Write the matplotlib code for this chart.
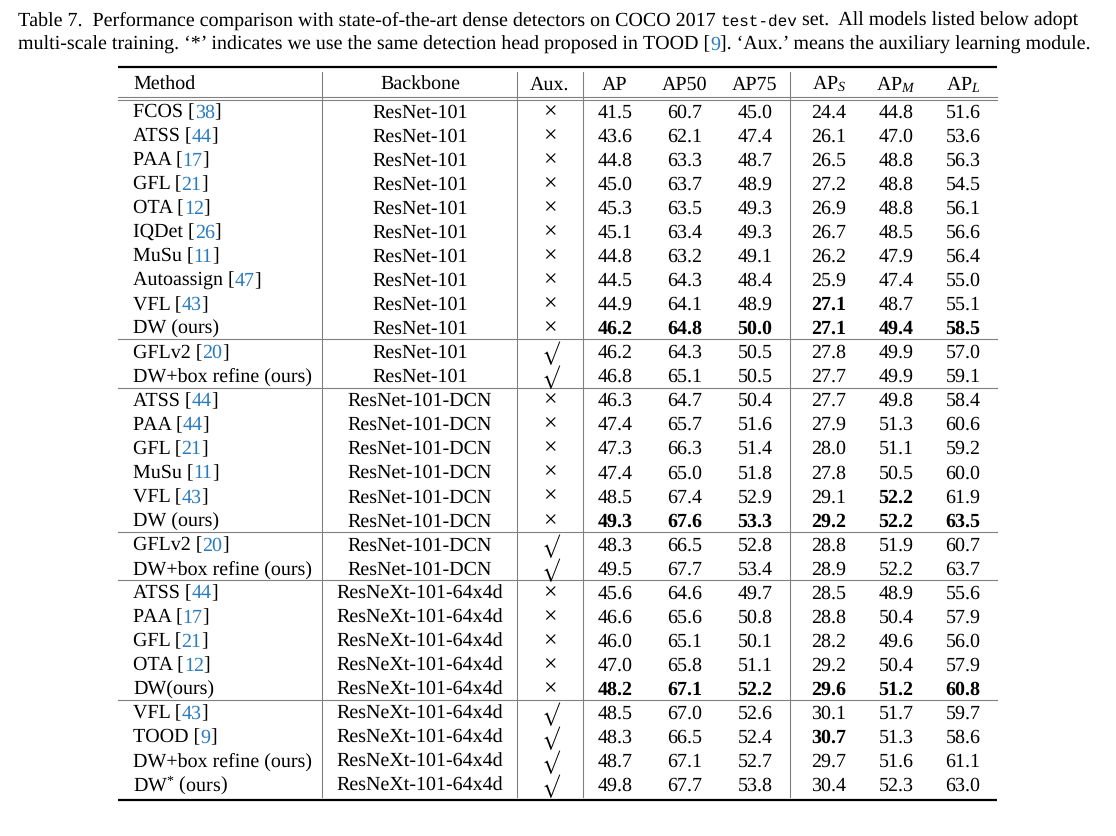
import matplotlib
matplotlib.use("Agg")
import matplotlib.pyplot as plt
from matplotlib.font_manager import FontProperties, findfont, get_font

plt.rcParams['font.family'] = ['Liberation Serif', 'DejaVu Serif']
plt.rcParams['mathtext.fontset'] = 'custom'
plt.rcParams['mathtext.rm'] = 'Liberation Serif'
plt.rcParams['mathtext.it'] = 'Liberation Serif:italic'
plt.rcParams['mathtext.bf'] = 'Liberation Serif:bold'
# sin hinting: los avances de los glifos son lineales y se pueden encadenar trozos
plt.rcParams['text.hinting'] = 'none'
plt.rcParams['text.hinting_factor'] = 1

# ------------------ DATOS ------------------
metodos = ["FCOS", "ATSS", "PAA", "GFL", "OTA", "IQDet", "MuSu", "Autoassign", "VFL", "DW (ours)",
           "GFLv2", "DW+box refine (ours)",
           "ATSS", "PAA", "GFL", "MuSu", "VFL", "DW (ours)",
           "GFLv2", "DW+box refine (ours)",
           "ATSS", "PAA", "GFL", "OTA", "DW(ours)",
           "VFL", "TOOD", "DW+box refine (ours)", "DW$^{*}$ (ours)"]
citas = ["38", "44", "17", "21", "12", "26", "11", "47", "43", "",
         "20", "",
         "44", "44", "21", "11", "43", "",
         "20", "",
         "44", "17", "21", "12", "",
         "43", "9", "", ""]
backbones = (["ResNet-101"] * 12 + ["ResNet-101-DCN"] * 8 + ["ResNeXt-101-64x4d"] * 9)
aux = [0] * 10 + [1] * 2 + [0] * 6 + [1] * 2 + [0] * 5 + [1] * 4

ap = [41.5, 43.6, 44.8, 45.0, 45.3, 45.1, 44.8, 44.5, 44.9, 46.2, 46.2, 46.8,
      46.3, 47.4, 47.3, 47.4, 48.5, 49.3, 48.3, 49.5,
      45.6, 46.6, 46.0, 47.0, 48.2, 48.5, 48.3, 48.7, 49.8]
ap50 = [60.7, 62.1, 63.3, 63.7, 63.5, 63.4, 63.2, 64.3, 64.1, 64.8, 64.3, 65.1,
        64.7, 65.7, 66.3, 65.0, 67.4, 67.6, 66.5, 67.7,
        64.6, 65.6, 65.1, 65.8, 67.1, 67.0, 66.5, 67.1, 67.7]
ap75 = [45.0, 47.4, 48.7, 48.9, 49.3, 49.3, 49.1, 48.4, 48.9, 50.0, 50.5, 50.5,
        50.4, 51.6, 51.4, 51.8, 52.9, 53.3, 52.8, 53.4,
        49.7, 50.8, 50.1, 51.1, 52.2, 52.6, 52.4, 52.7, 53.8]
aps = [24.4, 26.1, 26.5, 27.2, 26.9, 26.7, 26.2, 25.9, 27.1, 27.1, 27.8, 27.7,
       27.7, 27.9, 28.0, 27.8, 29.1, 29.2, 28.8, 28.9,
       28.5, 28.8, 28.2, 29.2, 29.6, 30.1, 30.7, 29.7, 30.4]
apm = [44.8, 47.0, 48.8, 48.8, 48.8, 48.5, 47.9, 47.4, 48.7, 49.4, 49.9, 49.9,
       49.8, 51.3, 51.1, 50.5, 52.2, 52.2, 51.9, 52.2,
       48.9, 50.4, 49.6, 50.4, 51.2, 51.7, 51.3, 51.6, 52.3]
apl = [51.6, 53.6, 56.3, 54.5, 56.1, 56.6, 56.4, 55.0, 55.1, 58.5, 57.0, 59.1,
       58.4, 60.6, 59.2, 60.0, 61.9, 63.5, 60.7, 63.7,
       55.6, 57.9, 56.0, 57.9, 60.8, 59.7, 58.6, 61.1, 63.0]

# celdas en negrita (fila, columna numérica)
negritas = [(9, c) for c in range(6)] + [(8, 3)] + \
           [(17, c) for c in range(6)] + [(16, 4)] + \
           [(24, c) for c in range(6)] + [(26, 3)]
grupos = [10, 2, 6, 2, 5, 4]

encabezados = ["AP", "AP50", "AP75", "AP$_S$", "AP$_M$", "AP$_L$"]

# ------------------ FIGURA ------------------
W, H = 1116, 836
fig = plt.figure(figsize=(W / 100, H / 100), dpi=100)
ax = fig.add_axes([0, 0, 1, 1])
ax.set_xlim(0, W)
ax.set_ylim(H, 0)
ax.axis('off')

FS = 14.4
FS_MONO = 11.8
AZUL = '#2a7cbf'
GRIS = '#808080'

try:
    from matplotlib.ft2font import Kerning
    KERN = Kerning.DEFAULT
except ImportError:
    KERN = 0

SERIF = findfont(FontProperties(family='Liberation Serif'))
MONO = findfont(FontProperties(family='Liberation Mono'))


def avance(s, ruta=SERIF, size=FS):
    # avance (px) del texto, con kerning, igual que lo coloca FT2Font
    f = get_font(ruta)
    f.set_size(size, 100)
    total = 0.0
    prev = None
    for c in s:
        idx = f.get_char_index(ord(c))
        if prev is not None:
            total += f.get_kerning(prev, idx, KERN) / 64
        total += f.load_char(ord(c)).linearHoriAdvance / 65536
        prev = idx
    return total


def escribir_tramos(tramos, x, y):
    # tramos: (texto, color, es_mono)
    for texto, color, es_mono in tramos:
        if es_mono:
            ax.text(x, y, texto, fontsize=FS_MONO, va='baseline', ha='left', color=color,
                    family=['Liberation Mono', 'DejaVu Sans Mono'])
            x += avance(texto, MONO, FS_MONO)
        else:
            ax.text(x, y, texto, fontsize=FS, va='baseline', ha='left', color=color)
            x += avance(texto)


# ------------------ LEYENDA ------------------
escribir_tramos([("Table 7.  Performance comparison with state-of-the-art dense detectors on COCO 2017 ", 'black', False),
                 ("test-dev", 'black', True),
                 (" set.  All models listed below adopt", 'black', False)], 18, 26)

escribir_tramos([("multi-scale training. \u2018*\u2019 indicates we use the same detection head proposed in TOOD [", 'black', False),
                 ("9", AZUL, False),
                 ("]. \u2018Aux.\u2019 means the auxiliary learning module.", 'black', False)], 18, 50)

# ------------------ TABLA ------------------
X_IZQ, X_DER = 118, 997
x_metodo = 133
x_backbone = 420
x_aux = 550
x_nums = [615, 685, 755, 829, 896, 963]
verticales = [322, 517, 583, 790]

y_cab = 83
y0 = 111
paso = 24.05
desp = 6.5  # centro -> línea base

ax.plot([X_IZQ, X_DER], [67, 67], color='black', lw=1.6, solid_capstyle='butt')
ax.plot([X_IZQ, X_DER], [800, 800], color='black', lw=1.6, solid_capstyle='butt')
for yy in (97, 100):
    ax.plot([X_IZQ, X_DER], [yy, yy], color=GRIS, lw=0.8)
for xv in verticales:
    ax.plot([xv, xv], [72, 797], color=GRIS, lw=0.8)

acum = 0
for g in grupos[:-1]:
    acum += g
    ys = y0 + (acum - 0.5) * paso
    ax.plot([X_IZQ, X_DER], [ys, ys], color=GRIS, lw=0.8)

# encabezado
yb = y_cab + desp
ax.text(x_metodo, yb, "Method", fontsize=FS, va='baseline', ha='left')
ax.text(x_backbone, yb, "Backbone", fontsize=FS, va='baseline', ha='center')
ax.text(x_aux, yb, "Aux.", fontsize=FS, va='baseline', ha='center')
for xc, h in zip(x_nums, encabezados):
    ax.text(xc, yb, h, fontsize=FS, va='baseline', ha='center')

columnas = [ap, ap50, ap75, aps, apm, apl]
for i in range(len(metodos)):
    yc = y0 + i * paso
    yb = yc + desp
    if citas[i]:
        escribir_tramos([(metodos[i] + " [", 'black', False), (citas[i], AZUL, False), ("]", 'black', False)],
                        x_metodo, yb)
    else:
        ax.text(x_metodo, yb, metodos[i], fontsize=FS, va='baseline', ha='left')
    ax.text(x_backbone, yb, backbones[i], fontsize=FS, va='baseline', ha='center')
    if aux[i]:
        ax.text(x_aux + 1, yc + 2, "\u221a", fontsize=13.5, va='center', ha='center',
                family=['STIXGeneral', 'DejaVu Serif'])
    else:
        ax.text(x_aux, yc + 1, "\u00d7", fontsize=17, va='center', ha='center')
    for c, col in enumerate(columnas):
        peso = 'bold' if (i, c) in negritas else 'normal'
        ax.text(x_nums[c], yb, f"{col[i]:.1f}", fontsize=FS, va='baseline', ha='center',
                fontweight=peso)

fig.savefig("out.png", dpi=100, facecolor='white')
